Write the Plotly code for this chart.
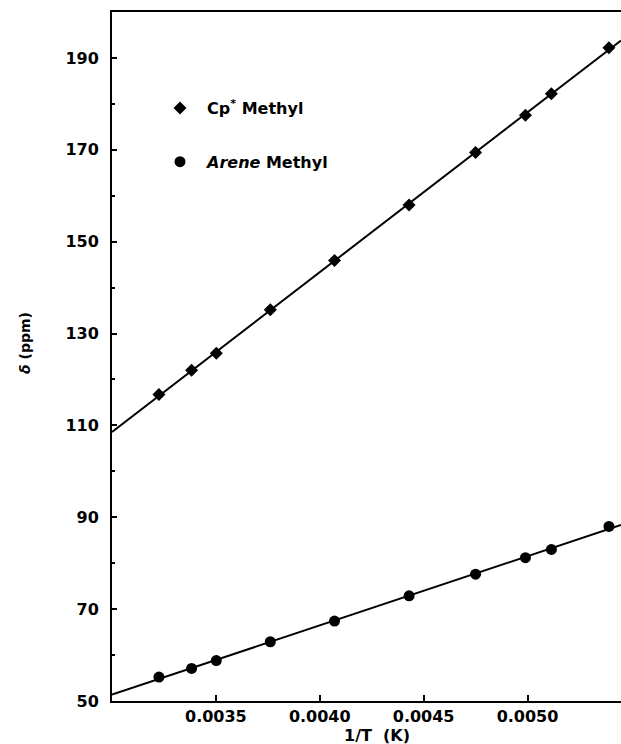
import numpy as np
import plotly.graph_objects as go

# 1/T values (K^-1)
inv_T = [0.003226, 0.003383, 0.003502, 0.003762, 0.004071,
         0.004430, 0.004750, 0.004990, 0.005115, 0.005392]
# chemical shifts (ppm)
cp_methyl = [116.7, 122.0, 125.7, 135.2, 145.9, 158.0, 169.4, 177.5, 182.2, 192.2]
arene_methyl = [55.2, 57.1, 58.8, 62.9, 67.4, 72.9, 77.6, 81.2, 83.0, 88.0]

x_range = [0.0030, 0.00545]
y_range = [50, 200]
x_ticks = [0.0035, 0.0040, 0.0045, 0.0050]
x_ticklabels = ["0.0035", "0.0040", "0.0045", "0.0050"]
y_ticks = [50, 70, 90, 110, 130, 150, 170, 190]

FONT = "DejaVu Sans"

fig = go.Figure()

xs = np.array(x_range)
for ys in (cp_methyl, arene_methyl):
    k, b = np.polyfit(inv_T, ys, 1)
    fig.add_trace(go.Scatter(x=xs, y=k * xs + b, mode="lines",
                             line=dict(color="black", width=2),
                             showlegend=False, hoverinfo="skip"))

fig.add_trace(go.Scatter(x=inv_T, y=cp_methyl, mode="markers",
                         name="Cp<sup>*</sup> Methyl", legendgroup="a",
                         marker=dict(symbol="diamond", size=10, color="black")))
fig.add_trace(go.Scatter(x=inv_T, y=arene_methyl, mode="markers",
                         name="<i>Arene</i> Methyl", legendgroup="b",
                         marker=dict(symbol="circle", size=11, color="black")))

# target pixel geometry in the 621x744 window
L, T = 112, 12
W, H = 621, 744
BOT = 701
pw = W - L
ph = BOT - T

fig.update_layout(
    width=W, height=H,
    margin=dict(l=L, r=0, t=T, b=H - BOT, pad=0),
    paper_bgcolor="white", plot_bgcolor="white",
    font=dict(family=FONT, size=16, color="black", weight="bold"),
    showlegend=True,
    legend=dict(x=(153 - L) / pw, y=1 - (91 - T) / ph, xanchor="left", yanchor="top",
                tracegroupgap=30, itemwidth=44,
                font=dict(family=FONT, size=16, weight="bold"),
                bgcolor="rgba(0,0,0,0)"),
    xaxis=dict(range=x_range, tickvals=x_ticks, ticktext=x_ticklabels,
               ticks="inside", ticklen=6, tickwidth=1.5, tickcolor="black",
               showline=True, linecolor="black", linewidth=2, mirror=True,
               showgrid=False, zeroline=False,
               tickfont=dict(family=FONT, size=16, weight="bold")),
    yaxis=dict(range=y_range, tickvals=y_ticks,
               ticks="inside", ticklen=5, tickwidth=1.5, tickcolor="black",
               minor=dict(dtick=10, tick0=50, ticks="inside", ticklen=3,
                          tickcolor="black", tickwidth=1.5),
               showline=True, linecolor="black", linewidth=2,
               showgrid=False, zeroline=False, ticklabelstandoff=8,
               tickfont=dict(family=FONT, size=16, weight="bold")),
    annotations=[
        dict(text="1/T  (K)", xref="paper", yref="paper",
             x=(377 - L) / pw, y=-(735 - BOT) / ph, xanchor="center", yanchor="middle",
             showarrow=False, font=dict(family=FONT, size=16, weight="bold")),
        dict(text="<i>δ</i> (ppm)", xref="paper", yref="paper",
             x=(25 - L) / pw, y=1 - (343 - T) / ph, xanchor="center", yanchor="middle",
             textangle=-90, showarrow=False,
             font=dict(family=FONT, size=14, weight="bold")),
    ],
)

fig.write_html(
    "out.html",
    config={"displayModeBar": False},
    post_script="document.body.style.margin='0';document.body.style.overflow='hidden';",
)
